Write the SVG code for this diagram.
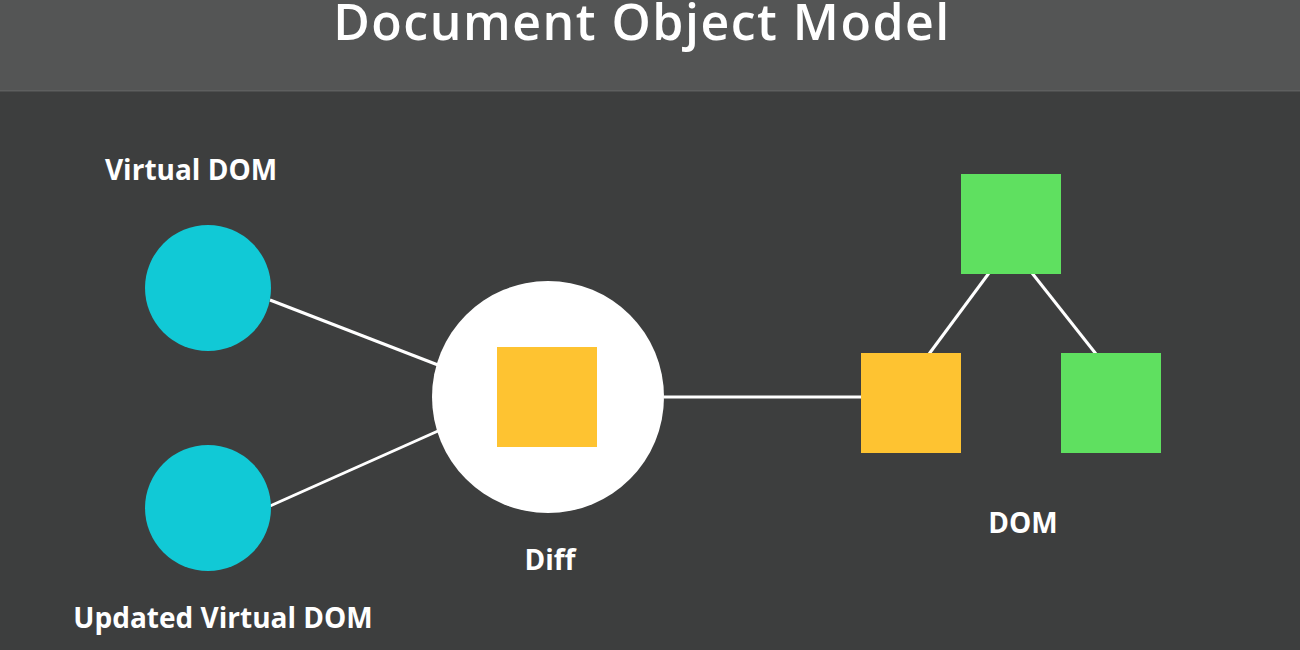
<svg xmlns="http://www.w3.org/2000/svg" width="1300" height="650" viewBox="0 0 1300 650">
  <style>
    .label { font-family: "Open Sans", "Liberation Sans", sans-serif; font-weight: 700; fill: #ffffff; font-size: 28px; text-anchor: middle; }
    .title { font-family: "Open Sans", "Liberation Sans", sans-serif; font-weight: 600; fill: #ffffff; }
    .link { stroke: #ffffff; stroke-width: 3; fill: none; }
    .vdom { fill: #11c9d6; }
    .changed { fill: #fec331; }
    .same { fill: #5fe060; }
  </style>

  <!-- backdrop -->
  <rect x="0" y="0" width="1300" height="650" fill="#3d3e3e"/>
  <rect x="0" y="0" width="1300" height="91" fill="#545555"/>
  <rect x="0" y="90" width="1300" height="1.5" fill="#5e5f5f"/>
  <text class="title" x="642" y="40" font-size="50" letter-spacing="1.5" text-anchor="middle">Document Object Model</text>

  <!-- connectors -->
  <g id="connectors">
    <line class="link" x1="270" y1="300" x2="438" y2="365"/>
    <line class="link" x1="270" y1="506" x2="438" y2="431"/>
    <line class="link" x1="664" y1="397" x2="862" y2="397"/>
    <line class="link" x1="989" y1="273" x2="929" y2="354"/>
    <line class="link" x1="1032" y1="273" x2="1096" y2="354"/>
  </g>

  <g id="virtual-dom">
    <circle class="vdom" cx="208" cy="288" r="63"/>
    <text class="label" x="191" y="180">Virtual DOM</text>
  </g>

  <g id="updated-virtual-dom">
    <circle class="vdom" cx="208" cy="508" r="63"/>
    <text class="label" x="223" y="628">Updated Virtual DOM</text>
  </g>

  <g id="diff">
    <circle cx="548" cy="397" r="116" fill="#ffffff"/>
    <rect class="changed" x="497" y="347" width="100" height="100"/>
    <text class="label" x="550" y="570">Diff</text>
  </g>

  <g id="dom">
    <rect class="same" x="961" y="174" width="100" height="100"/>
    <rect class="changed" x="861" y="353" width="100" height="100"/>
    <rect class="same" x="1061" y="353" width="100" height="100"/>
    <text class="label" x="1023" y="533">DOM</text>
  </g>
</svg>
